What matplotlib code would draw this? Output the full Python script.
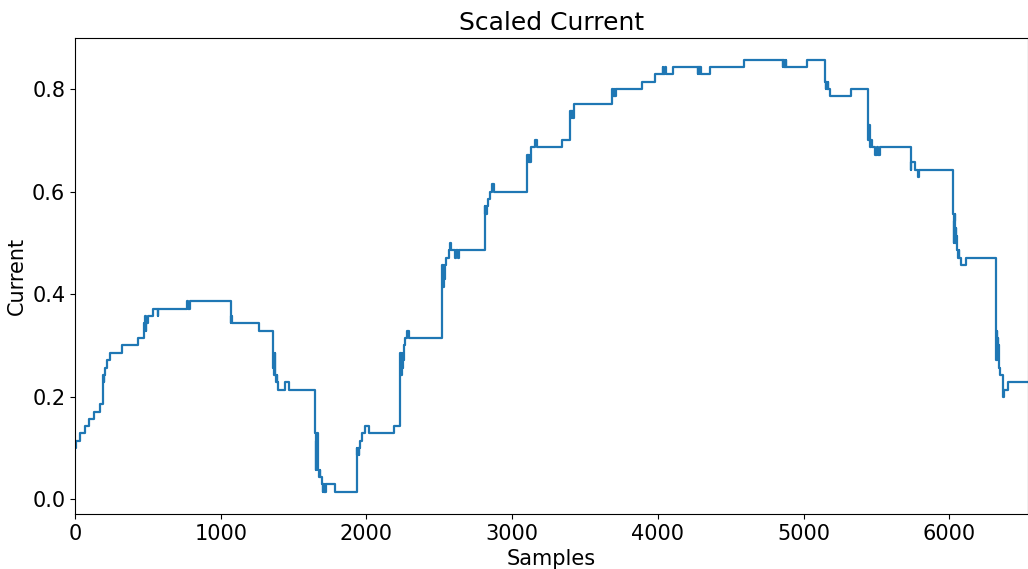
import numpy as np
import matplotlib
matplotlib.use("Agg")
import matplotlib.pyplot as plt

# sample index where the scaled current changes level, and the new level
# rise from the start
change_at = [0, 8, 34, 68, 97, 131, 172,
             189, 191, 194, 197, 200,
             206, 218, 241, 325, 432,
             474, 478, 482, 486, 490,
             504, 532, 566, 571, 768, 774, 790]
level = [0.100, 0.114, 0.129, 0.143, 0.157, 0.171, 0.186,
         0.243, 0.229, 0.243, 0.229, 0.243,
         0.257, 0.271, 0.286, 0.300, 0.314,
         0.343, 0.329, 0.357, 0.329, 0.343,
         0.357, 0.371, 0.357, 0.371, 0.386, 0.371, 0.386]

# fall down to the minimum
change_at += [1069, 1073, 1079, 1263,
              1358, 1361, 1364, 1367, 1369, 1372, 1375, 1380, 1384, 1388,
              1394, 1442, 1471,
              1649, 1652, 1655, 1658, 1661, 1664, 1669, 1674, 1679, 1683,
              1694, 1699, 1703, 1707, 1712, 1716, 1721, 1785]
level += [0.343, 0.357, 0.343, 0.329,
          0.286, 0.257, 0.271, 0.243, 0.286, 0.257, 0.243, 0.229, 0.243, 0.229,
          0.214, 0.229, 0.214,
          0.129, 0.057, 0.114, 0.071, 0.129, 0.086, 0.057, 0.043, 0.057, 0.043,
          0.029, 0.014, 0.029, 0.014, 0.029, 0.014, 0.029, 0.014]

# second rise
change_at += [1934, 1938, 1942, 1946, 1950, 1957, 1968, 1987, 2019, 2191,
              2231, 2234, 2237, 2240, 2243, 2246, 2250, 2255, 2262, 2277, 2294,
              2519, 2522, 2525, 2528, 2531, 2534, 2538, 2546, 2564, 2572, 2583,
              2611, 2615, 2629, 2634,
              2812, 2816, 2819, 2823, 2827, 2833, 2845, 2863, 2875,
              3103, 3107, 3111, 3115, 3119, 3123, 3127, 3130, 3154, 3167, 3344,
              3397, 3401, 3404, 3408, 3412, 3416, 3426]
level += [0.100, 0.086, 0.100, 0.086, 0.100, 0.114, 0.129, 0.143, 0.129, 0.143,
          0.286, 0.243, 0.271, 0.243, 0.286, 0.257, 0.271, 0.300, 0.314, 0.329, 0.314,
          0.457, 0.414, 0.443, 0.414, 0.457, 0.429, 0.457, 0.471, 0.486, 0.500, 0.486,
          0.471, 0.486, 0.471, 0.486,
          0.571, 0.557, 0.571, 0.557, 0.571, 0.586, 0.600, 0.614, 0.600,
          0.671, 0.657, 0.671, 0.657, 0.671, 0.657, 0.671, 0.686, 0.700, 0.686, 0.700,
          0.757, 0.743, 0.757, 0.743, 0.757, 0.743, 0.771]

# top plateau
change_at += [3688, 3692, 3696, 3700, 3704, 3708, 3712, 3889, 3981,
              4032, 4038, 4050, 4056, 4105,
              4272, 4276, 4280, 4284, 4288, 4292, 4296, 4360, 4593,
              4858, 4861, 4865, 4869, 4873, 4877, 4881, 5023]
level += [0.800, 0.786, 0.800, 0.786, 0.800, 0.786, 0.800, 0.814, 0.829,
          0.843, 0.829, 0.843, 0.829, 0.843,
          0.829, 0.843, 0.829, 0.843, 0.829, 0.843, 0.829, 0.843, 0.857,
          0.843, 0.857, 0.843, 0.857, 0.843, 0.857, 0.843, 0.857]

# final decline
change_at += [5148, 5152, 5156, 5160, 5164, 5168, 5171, 5178, 5327,
              5443, 5446, 5448, 5451, 5454, 5458, 5462, 5466, 5493, 5501, 5509, 5527,
              5735, 5739, 5763, 5786, 5791,
              6027, 6030, 6033, 6036, 6038, 6041, 6045, 6049, 6054, 6060, 6065, 6069,
              6078, 6112,
              6319, 6322, 6325, 6328, 6331, 6334, 6337, 6341, 6347, 6365, 6371, 6378,
              6400]
level += [0.814, 0.800, 0.814, 0.800, 0.814, 0.800, 0.800, 0.786, 0.800,
          0.700, 0.729, 0.714, 0.729, 0.700, 0.686, 0.700, 0.686, 0.671, 0.686, 0.671, 0.686,
          0.643, 0.657, 0.643, 0.629, 0.643,
          0.557, 0.500, 0.543, 0.514, 0.557, 0.500, 0.529, 0.514, 0.486, 0.471, 0.486, 0.471,
          0.457, 0.471,
          0.343, 0.271, 0.329, 0.286, 0.314, 0.271, 0.300, 0.257, 0.243, 0.214, 0.200, 0.214,
          0.229]

n_samples = 6540

x = change_at + [n_samples]
y = level + [level[-1]]

fig = plt.figure(figsize=(10.28, 5.69), dpi=100)
ax = fig.add_axes([0.073, 0.097, 0.927, 0.836])
ax.plot(x, y, drawstyle="steps-post", color="#1f77b4", linewidth=1.6)
ax.set_xlim(0, n_samples)
ax.set_title("Scaled Current", fontsize=18)
ax.set_xlabel("Samples", fontsize=15)
ax.set_ylabel("Current", fontsize=15)
ax.tick_params(labelsize=15)
fig.savefig("out.png", dpi=100)
